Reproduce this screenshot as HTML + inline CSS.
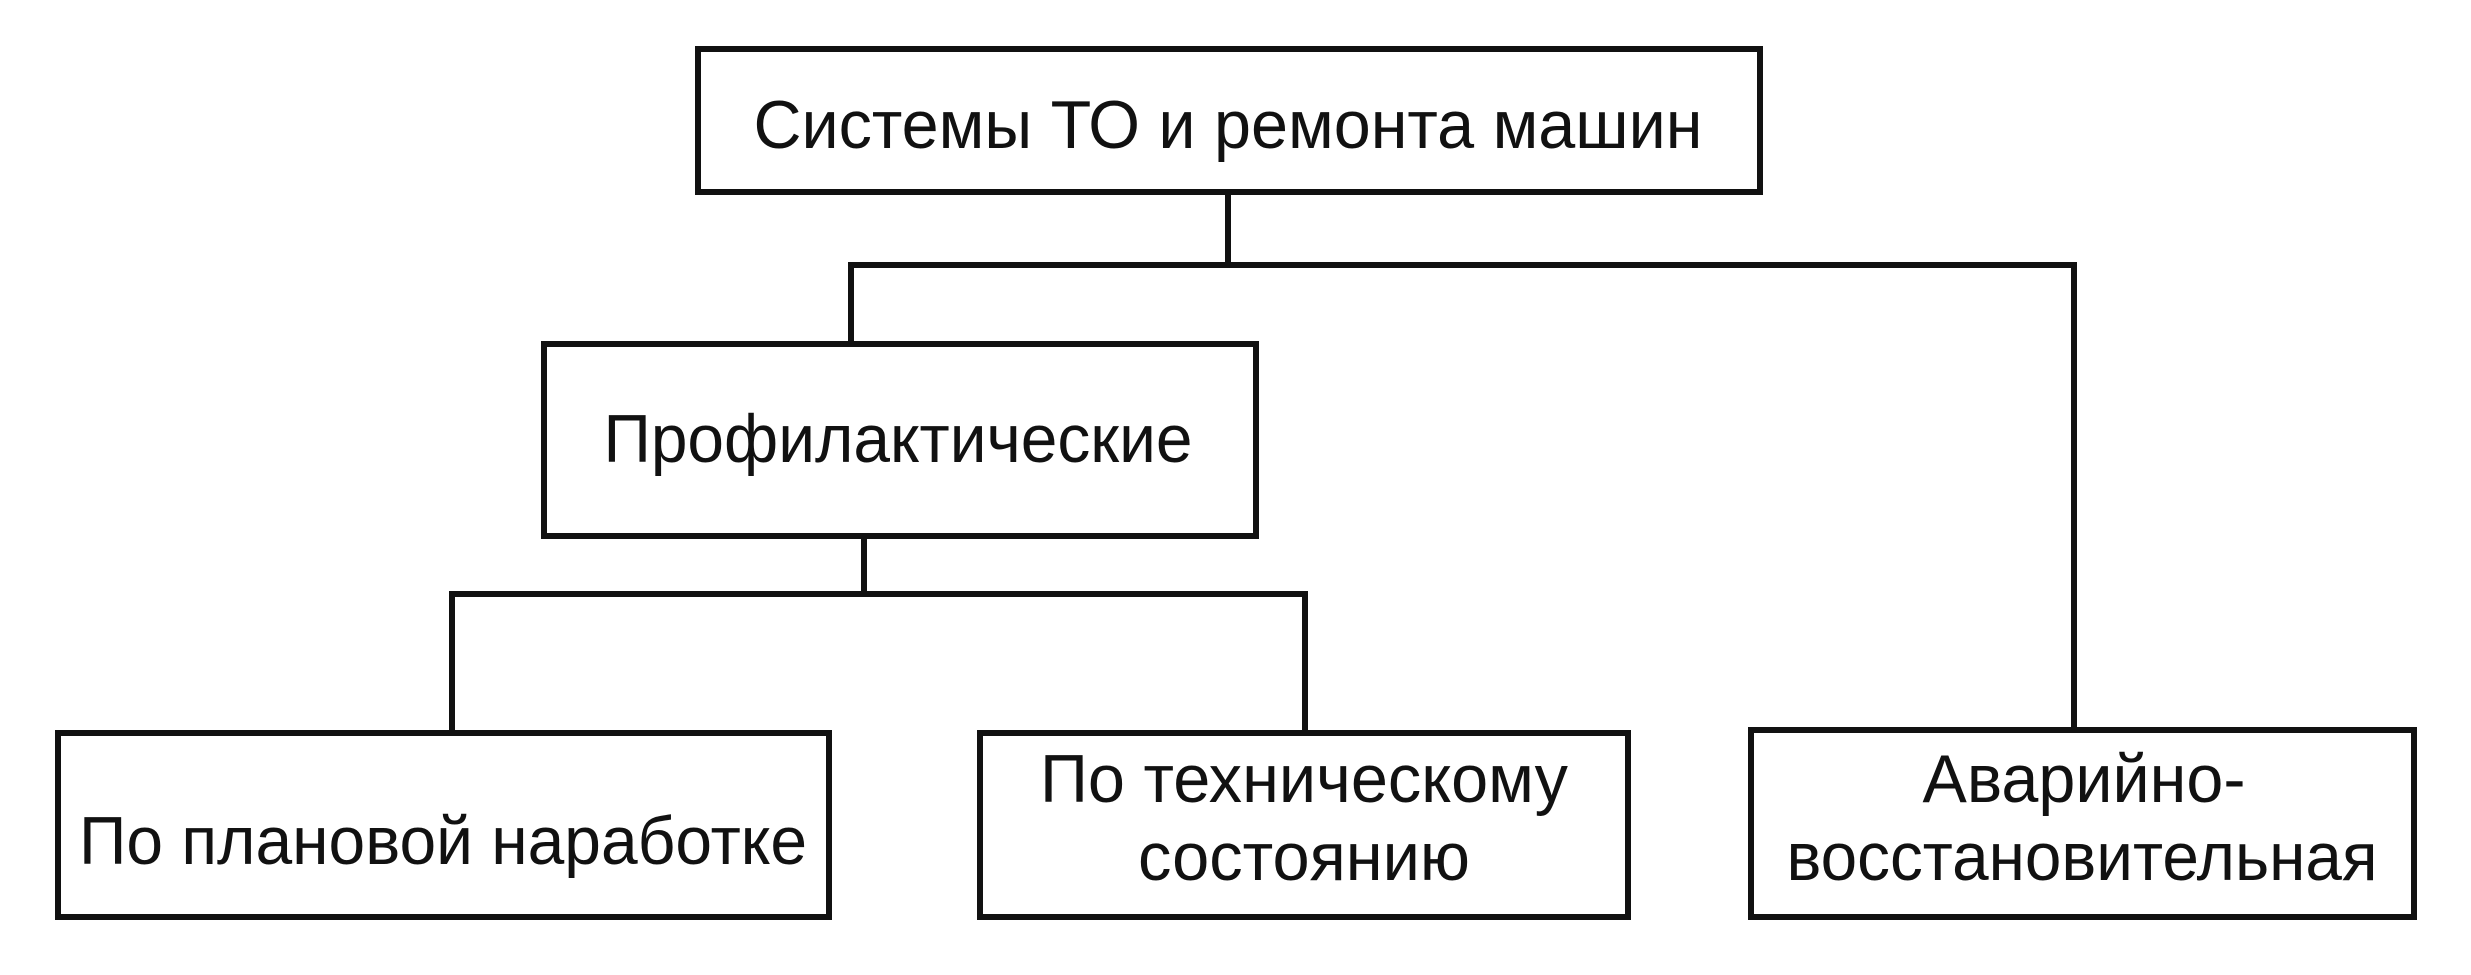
<!DOCTYPE html>
<html><head><meta charset="utf-8"><style>
html,body{margin:0;padding:0;background:#fff;}
svg{display:block;}
text{font-family:"Liberation Sans",Arial,sans-serif;font-size:68px;fill:#111;}
</style></head><body>
<svg width="2471" height="975" viewBox="0 0 2471 975" xmlns="http://www.w3.org/2000/svg">
<g fill="none" stroke="#111" stroke-width="6">
<rect x="698" y="49" width="1062" height="143"/>
<rect x="544" y="344" width="712" height="192"/>
<rect x="58" y="733" width="771" height="184"/>
<rect x="980" y="733" width="648" height="184"/>
<rect x="1751" y="730" width="663" height="187"/>
<polyline points="1228,192 1228,265"/>
<polyline points="851,344 851,265 2074,265 2074,730"/>
<polyline points="864,536 864,594"/>
<polyline points="452,733 452,594 1305,594 1305,733"/>
</g>
<text x="1228" y="148" text-anchor="middle" textLength="949" lengthAdjust="spacingAndGlyphs">Системы ТО и ремонта машин</text>
<text x="898" y="462" text-anchor="middle" textLength="589" lengthAdjust="spacingAndGlyphs">Профилактические</text>
<text x="443" y="864" text-anchor="middle" textLength="728" lengthAdjust="spacingAndGlyphs">По плановой наработке</text>
<text x="1304" y="802" text-anchor="middle" textLength="528" lengthAdjust="spacingAndGlyphs">По техническому</text>
<text x="1304" y="880" text-anchor="middle" textLength="332" lengthAdjust="spacingAndGlyphs">состоянию</text>
<text x="2084" y="802" text-anchor="middle" textLength="323" lengthAdjust="spacingAndGlyphs">Аварийно-</text>
<text x="2082" y="880" text-anchor="middle" textLength="591" lengthAdjust="spacingAndGlyphs">восстановительная</text>
</svg>
</body></html>
